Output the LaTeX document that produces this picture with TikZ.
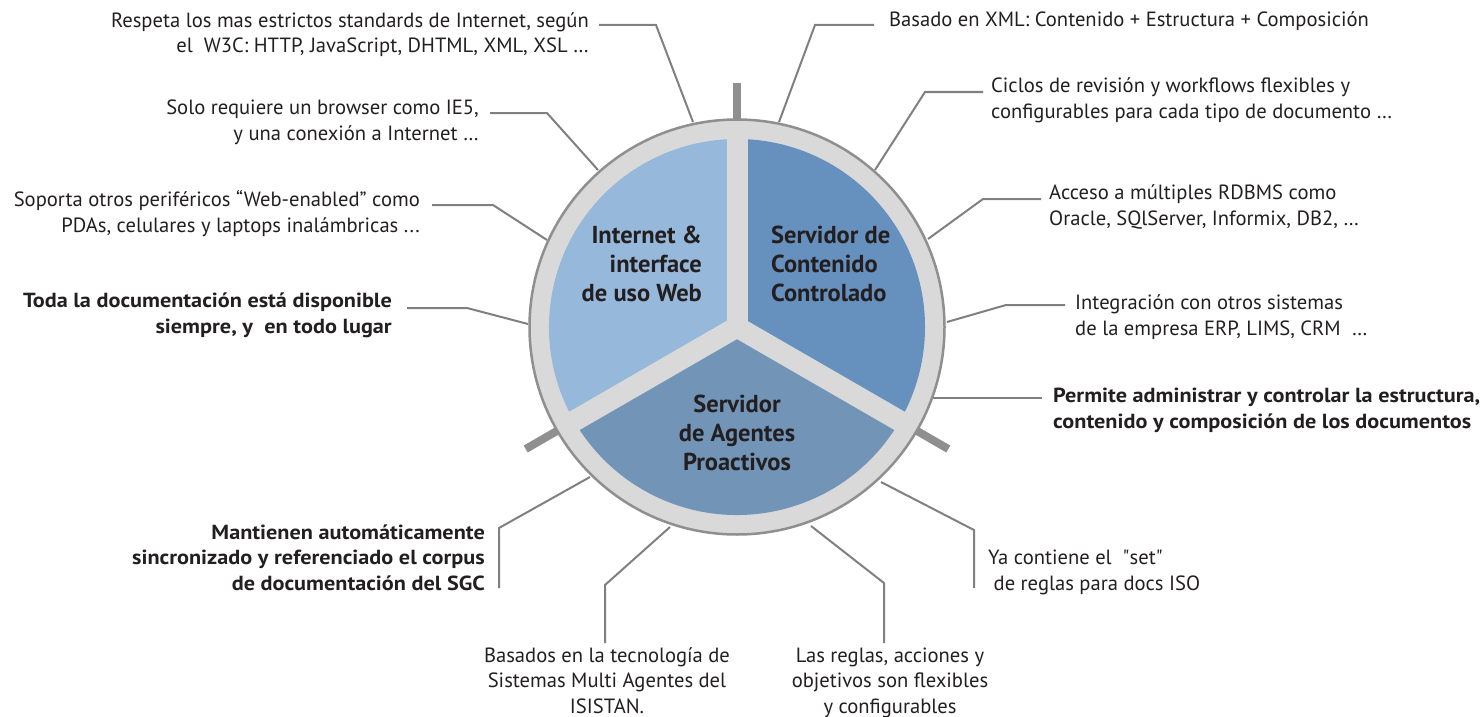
\documentclass[tikz,border=0pt]{standalone}
\usepackage{fontspec}
\setmainfont{PT Sans}
\definecolor{leftc}{HTML}{96B8DB}
\definecolor{rightc}{HTML}{6690BD}
\definecolor{botc}{HTML}{7294B7}
\definecolor{ringc}{HTML}{D9D9D9}
\definecolor{edgec}{HTML}{8F8F8F}
\definecolor{connc}{HTML}{808080}
\definecolor{textc}{HTML}{231F20}
\newcommand{\sq}{\XeTeXglyph\XeTeXcharglyph"22\relax}
\begin{document}
\begin{tikzpicture}[x=1pt,y=-1pt,
  txt/.style={inner sep=0pt, text=textc, font=\fontsize{20.6}{25.5}\selectfont},
  btxt/.style={inner sep=0pt, text=textc, font=\fontsize{20.4}{25.5}\selectfont\bfseries\addfontfeature{FakeStretch=1.09}},
  title/.style={inner sep=0pt, text=textc, font=\fontsize{24.5}{29}\selectfont\bfseries},
  conn/.style={draw=connc, line width=2pt},
  tick/.style={draw=edgec, line width=8pt},
  gap/.style={draw=ringc, line width=21pt}]
\useasboundingbox (0,0) rectangle (1481,717);
\coordinate (C) at (737,327);
% ticks
\draw[tick] (C) ++(270:200) -- ++(270:44);
\draw[tick] (C) ++(150:200) -- ++(150:44);
\draw[tick] (C) ++(30:200) -- ++(30:44);
% connector coordinates
\coordinate (s1) at (599,25);   \coordinate (k1) at (656,25);   \coordinate (e1) at (693,122);
\coordinate (s2) at (490,113);  \coordinate (k2) at (547,113);  \coordinate (e2) at (598,170);
\coordinate (s3) at (432,205);  \coordinate (k3) at (493,205);  \coordinate (e3) at (547,240);
\coordinate (s4) at (407,308);  \coordinate (k4) at (467,308);  \coordinate (e4) at (528,324);
\coordinate (s5) at (874,25);   \coordinate (k5) at (815,25);   \coordinate (e5) at (779,122);
\coordinate (s6) at (983,92);   \coordinate (k6) at (925,92);   \coordinate (e6) at (875,170);
\coordinate (s7) at (1041,199); \coordinate (k7) at (983,199);  \coordinate (e7) at (928,239);
\coordinate (s8) at (1065,305); \coordinate (k8) at (1006,305); \coordinate (e8) at (947,322);
\coordinate (s9) at (1042,398); \coordinate (e9) at (930,398);
\coordinate (s10) at (499,588); \coordinate (k10) at (499,528); \coordinate (e10) at (590,477);
\coordinate (s11) at (605,643); \coordinate (k11) at (605,585); \coordinate (e11) at (670,527);
\coordinate (s12) at (884,643); \coordinate (k12) at (884,583); \coordinate (e12) at (811,526);
\coordinate (s13) at (974,588); \coordinate (k13) at (974,530); \coordinate (e13) at (881,482);
\draw[conn] (s1) -- (k1) -- (e1);
\draw[conn] (s2) -- (k2) -- (e2);
\draw[conn] (s3) -- (k3) -- (e3);
\draw[conn] (s4) -- (k4) -- (e4);
\draw[conn] (s5) -- (k5) -- (e5);
\draw[conn] (s6) -- (k6) -- (e6);
\draw[conn] (s7) -- (k7) -- (e7);
\draw[conn] (s8) -- (k8) -- (e8);
\draw[conn] (s9) -- (e9);
\draw[conn] (s10) -- (k10) -- (e10);
\draw[conn] (s11) -- (k11) -- (e11);
\draw[conn] (s12) -- (k12) -- (e12);
\draw[conn] (s13) -- (k13) -- (e13);
% circle
\draw[fill=ringc, draw=edgec, line width=2.5pt] (C) circle[radius=207.5];
\fill[leftc] (C) -- ++(150:188) arc[start angle=150, end angle=270, radius=188] -- cycle;
\fill[rightc] (C) -- ++(270:188) arc[start angle=270, end angle=390, radius=188] -- cycle;
\fill[botc] (C) -- ++(30:188) arc[start angle=30, end angle=150, radius=188] -- cycle;
\draw[gap] (C) -- ++(270:200);
\draw[gap] (C) -- ++(150:200);
\draw[gap] (C) -- ++(30:200);
% titles (base anchor = baseline of last line)
\node[title, anchor=base east, align=right] (h1) at (702,301.5) {Internet \&\\interface\\de uso Web};
\node[title, anchor=base west, align=left] (h2) at (771,301.5) {Servidor de\\Contenido\\Controlado};
\node[title, anchor=base, align=center] (h3) at (737,470.5) {Servidor\\de Agentes\\Proactivos};
% texts
\node[txt, anchor=base east, align=right] (t1) at (589,53) {Respeta los mas estrictos standards de Internet, según\\el~ W3C: HTTP, JavaScript, DHTML, XML, XSL …};
\node[txt, anchor=base east, align=right] (t2) at (479,140) {Solo requiere un browser como IE5,\\y una conexión a Internet …};
\node[txt, anchor=base east, align=right] (t3) at (420,232) {Soporta otros periféricos “Web-enabled” como\\PDAs, celulares y laptops inalámbricas ...};
\node[btxt, anchor=base east, align=right] (t4) at (392,333) {Toda la documentación está disponible\\siempre, y~ en todo lugar};
\node[txt, anchor=base west, align=left] (t5) at (889,27) {Basado en XML: Contenido + Estructura + Composición};
\node[txt, anchor=base west, align=left] (t6) at (991,118) {Ciclos de revisión y workflows flexibles y\\configurables para cada tipo de documento …};
\node[txt, anchor=base west, align=left] (t7) at (1049,225) {Acceso a múltiples RDBMS como\\Oracle, SQlServer, Informix, DB2, …};
\node[txt, anchor=base west, align=left] (t8) at (1075,335) {Integración con otros sistemas\\de la empresa ERP, LIMS, CRM~ …};
\node[btxt, anchor=base west, align=left] (t9) at (1053,428) {Permite administrar y controlar la estructura,\\contenido y composición de los documentos};
\node[btxt, anchor=base east, align=right] (t10) at (485,590) {Mantienen automáticamente\\sincronizado y referenciado el corpus\\de documentación del SGC};
\node[txt, anchor=base, align=center] (t11) at (607,713) {Basados en la tecnología de\\Sistemas Multi Agentes del\\ISISTAN.};
\node[txt, anchor=base, align=center] (t12) at (890,713) {Las reglas, acciones y\\objetivos son flexibles\\y configurables};
\node[txt, anchor=base west, align=left] (t13) at (988,590) {Ya contiene el~ \sq set\sq\\~de reglas para docs ISO};
\end{tikzpicture}
\end{document}
